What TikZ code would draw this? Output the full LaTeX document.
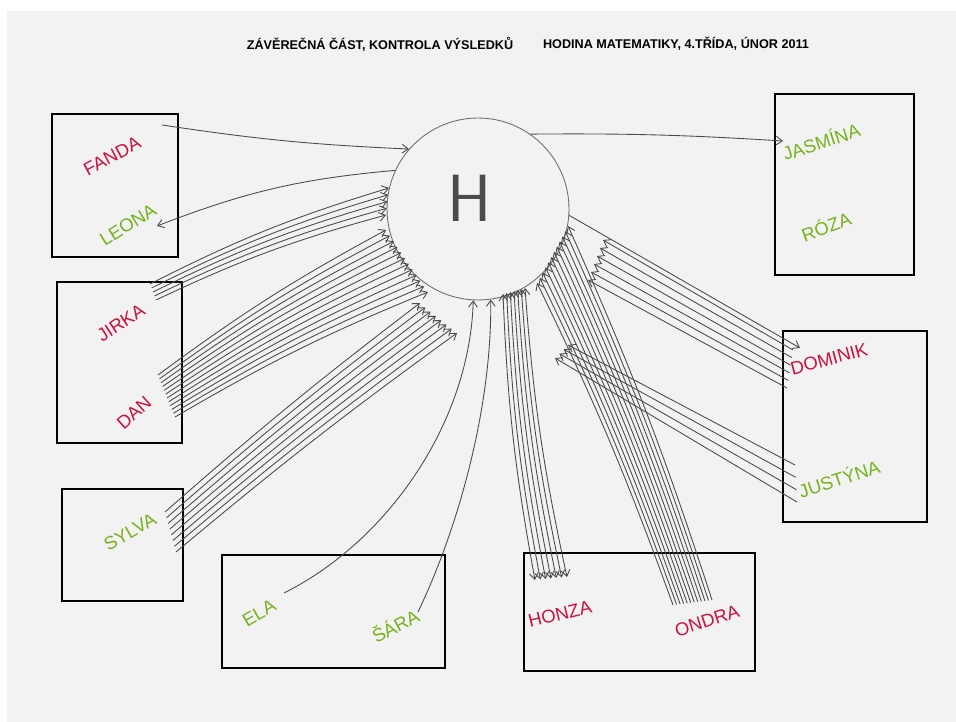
\documentclass[tikz,border=0pt]{standalone}
\usepackage{fontspec}
\setmainfont{Liberation Sans}
\usepackage{tikz}
\usetikzlibrary{arrows.meta,calc,positioning}

\definecolor{paper}{RGB}{242,242,242}
\definecolor{namered}{RGB}{204,18,60}
\definecolor{namegreen}{RGB}{118,178,28}
\definecolor{pencil}{RGB}{75,75,75}

\tikzset{
    room/.style={draw=black, line width=1.6pt, inner sep=0pt},
    boy/.style={text=namered, font=\fontsize{10.5}{12}\selectfont},
    girl/.style={text=namegreen, font=\fontsize{10.5}{12}\selectfont},
    heading/.style={font=\bfseries\fontsize{7.2}{8}\selectfont},
    link/.style={draw=pencil, line width=0.5pt, ->},
}

\begin{document}
\begin{tikzpicture}[x=0.02cm, y=-0.02cm, >={Straight Barb[length=3.5pt,width=5pt]}]
        % Paper
        \fill[white] (0,0) rectangle (956,722);
        \fill[paper] (7,11) rectangle (956,722);
        \useasboundingbox (0,0) rectangle (956,722);

        % Title
        \node[heading] (title1) at (380,44) {ZÁVĚREČNÁ ČÁST, KONTROLA VÝSLEDKŮ};
        \node[heading] (title2) at (676,44) {HODINA MATEMATIKY, 4.TŘÍDA, ÚNOR 2011};

        % Draw the H circle
        \node[draw=pencil!80, circle, line width=0.5pt, minimum size=3.64cm] (h) at (478,209) {};
        \node[text=pencil, font=\sffamily\fontsize{38}{38}\selectfont] (hletter) at (470,198) {H};

        % Draw rooms
        \node[room, minimum width=2.52cm, minimum height=2.86cm] (box1) at (115,185.5) {};
        \node[room, minimum width=2.5cm, minimum height=3.22cm] (box2) at (119.5,362.5) {};
        \node[room, minimum width=2.42cm, minimum height=2.24cm] (box3) at (122.5,545) {};
        \node[room, minimum width=4.46cm, minimum height=2.26cm] (box4) at (333.5,611.5) {};
        \node[room, minimum width=4.62cm, minimum height=2.36cm] (box5) at (639.5,612) {};
        \node[room, minimum width=2.78cm, minimum height=3.62cm] (box6) at (844.5,184.5) {};
        \node[room, minimum width=2.88cm, minimum height=3.82cm] (box7) at (855,426.5) {};

        % Names
        \node[boy, rotate=28] (fanda) at (112,156) {FANDA};
        \node[girl, rotate=32] (leona) at (128,225) {LEONA};
        \node[boy, rotate=33] (jirka) at (121,323) {JIRKA};
        \node[boy, rotate=42] (dan) at (134,413) {DAN};
        \node[girl, rotate=30] (sylva) at (130,532) {SYLVA};
        \node[girl, rotate=30] (ela) at (259,613) {ELA};
        \node[girl, rotate=28] (sara) at (395,625) {ŠÁRA};
        \node[boy, rotate=14] (honza) at (560,614) {HONZA};
        \node[boy, rotate=18] (ondra) at (707,621) {ONDRA};
        \node[girl, rotate=18] (jasmina) at (821,141) {JASMÍNA};
        \node[girl, rotate=20] (roza) at (826,226) {RÓZA};
        \node[boy, rotate=15] (dominik) at (829,359) {DOMINIK};
        \node[girl, rotate=18] (justyna) at (839,478) {JUSTÝNA};

        % Single arrows
        \coordinate (fandaout) at (162,125);
        \coordinate (leonain) at (157,226);
        \coordinate (jasminain) at (783,141);
        \coordinate (dominikin) at (800,348);
        \coordinate (elaout) at (284,593);
        \coordinate (saraout) at (418,612);
        \draw[link] (fandaout) to[bend right=3] (h.139);
        \draw[link] (h.155) to[bend right=8] (leonain);
        \draw[link] (h.55) to[bend left=2] (jasminain);
        \draw[link] (h.-4) -- (dominikin);
        \draw[link] (elaout) .. controls (390,540) and (470,420) .. (h.-93);
        \draw[link] (saraout) .. controls (462,520) and (492,400) .. (h.-82);

        % Bundles of arrows
        \coordinate (jirka1) at (150,284); \coordinate (jirka2) at (156,300);
        \coordinate (jirkaH1) at (389,188); \coordinate (jirkaH2) at (386,215);
        \foreach \i in {0,...,4}
            \draw[link] ($(jirka1)!\i/4!(jirka2)$) to[bend left=5] ($(jirkaH1)!\i/4!(jirkaH2)$);

        \coordinate (dan1) at (158,375); \coordinate (dan2) at (175,417);
        \coordinate (danH1) at (386,230); \coordinate (danH2) at (428,292);
        \foreach \i in {0,...,11}
            \draw[link] ($(dan1)!\i/11!(dan2)$) to[bend left=4] ($(danH1)!\i/11!(danH2)$);

        \coordinate (sylva1) at (165,512); \coordinate (sylva2) at (176,552);
        \coordinate (sylvaH1) at (420,303); \coordinate (sylvaH2) at (457,333);
        \foreach \i in {0,...,7}
            \draw[link] ($(sylva1)!\i/7!(sylva2)$) to[bend left=2] ($(sylvaH1)!\i/7!(sylvaH2)$);

        \coordinate (honza1) at (535,580); \coordinate (honza2) at (567,577);
        \coordinate (honzaH1) at (503,294); \coordinate (honzaH2) at (525,288);
        \foreach \i in {0,...,6}
            \draw[link, <->] ($(honzaH1)!\i/6!(honzaH2)$) to[bend right=4] ($(honza1)!\i/6!(honza2)$);

        \coordinate (ondra1) at (673,605); \coordinate (ondra2) at (712,600);
        \coordinate (ondraH1) at (537,283); \coordinate (ondraH2) at (568,226);
        \foreach \i in {0,...,11}
            \draw[link] ($(ondra1)!\i/11!(ondra2)$) to[bend right=3] ($(ondraH1)!\i/11!(ondraH2)$);

        \coordinate (dominik1) at (793,350); \coordinate (dominik2) at (787,388);
        \coordinate (dominikH1) at (603,240); \coordinate (dominikH2) at (588,280);
        \foreach \i in {0,...,5}
            \draw[link] ($(dominik1)!\i/5!(dominik2)$) -- ($(dominikH1)!\i/5!(dominikH2)$);

        \coordinate (justyna1) at (795,465); \coordinate (justyna2) at (797,502);
        \coordinate (justynaH1) at (568,345); \coordinate (justynaH2) at (555,358);
        \foreach \i in {0,...,3}
            \draw[link] ($(justyna1)!\i/3!(justyna2)$) -- ($(justynaH1)!\i/3!(justynaH2)$);
\end{tikzpicture}
\end{document}
